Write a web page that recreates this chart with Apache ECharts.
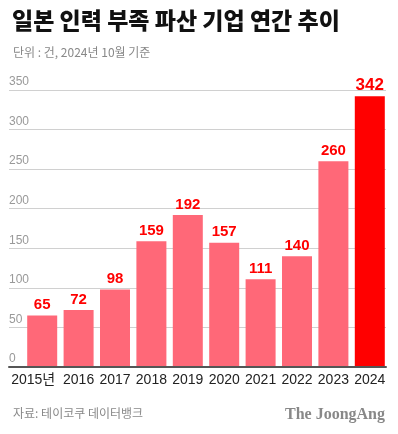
<!DOCTYPE html>
<html>
<head>
<meta charset="utf-8">
<script src="https://cdn.jsdelivr.net/npm/echarts@6/dist/echarts.min.js"></script>
<style>
html,body{margin:0;padding:0;background:#fff;}
#c{width:398px;height:434px;}
</style>
</head>
<body>
<div id="c"></div>
<script>
const categories = ['2015년','2016','2017','2018','2019','2020','2021','2022','2023','2024'];
const values = [65, 72, 98, 159, 192, 157, 111, 140, 260, 342];
const yTicks = [0, 50, 100, 150, 200, 250, 300, 350];

const FONT = '"Liberation Sans", "Noto Sans CJK KR", sans-serif';
const chart = echarts.init(document.getElementById('c'), null, {renderer: 'canvas'});

const barData = values.map((v, i) => {
  const last = i === values.length - 1;
  return {
    value: v,
    itemStyle: {color: last ? '#ff0000' : '#ff6878'},
    label: last ? {fontSize: 17} : undefined
  };
});

const catData = categories.map((c, i) => i === 0
  ? {value: c, textStyle: {padding: [0, 18, 0, 0]}}
  : c);

chart.setOption({
  animation: false,
  backgroundColor: '#fff',
  title: [
    {text: '일본 인력 부족 파산 기업 연간 추이', left: 7, top: 4,
     textStyle: {fontFamily: '"Noto Sans CJK KR", sans-serif', fontSize: 23, fontWeight: 900, color: '#111'}},
    {text: '단위 : 건, 2024년 10월 기준', left: 8, top: 41,
     textStyle: {fontFamily: '"Noto Sans CJK KR", sans-serif', fontSize: 12, fontWeight: 'normal', color: '#888'}},
    {text: '자료: 테이코쿠 데이터뱅크', left: 8, top: 402,
     textStyle: {fontFamily: '"Noto Sans CJK KR", sans-serif', fontSize: 12, fontWeight: 'normal', color: '#888'}},
    {text: 'The JoongAng', right: 8, top: 402,
     textStyle: {fontFamily: '"Liberation Serif", "DejaVu Serif", serif', fontSize: 16, fontWeight: 'bold', color: '#888'}}
  ],
  grid: [
    {left: 9, right: 12, top: 90, bottom: 67},
    {left: 24, right: 10, top: 90, bottom: 67}
  ],
  xAxis: [
    {type: 'category', gridIndex: 0, data: [''], z: 10,
     axisLine: {show: true, lineStyle: {color: '#555', width: 2}},
     axisTick: {show: false}, axisLabel: {show: false}, splitLine: {show: false}},
    {type: 'category', gridIndex: 1, data: catData,
     axisLine: {show: false}, axisTick: {show: false},
     axisLabel: {fontFamily: FONT, fontSize: 14, color: '#222', margin: 6, interval: 0}}
  ],
  yAxis: [
    {type: 'value', gridIndex: 0, min: 0, max: 350, interval: 50,
     axisLine: {show: false}, axisTick: {show: false},
     axisLabel: {inside: true, margin: 0, align: 'left', verticalAlign: 'bottom',
                 padding: [0, 0, 2, 0], fontFamily: FONT, fontSize: 12, color: '#999',
                 formatter: v => yTicks.includes(v) ? String(v) : ''},
     splitLine: {show: true, lineStyle: {color: '#d0d0d0', width: 1}}},
    {type: 'value', gridIndex: 1, min: 0, max: 350, interval: 50, show: false,
     splitLine: {show: false}}
  ],
  series: [
    {type: 'bar', xAxisIndex: 1, yAxisIndex: 1, data: barData, barWidth: 30,
     label: {show: true, position: 'top', distance: 3, fontFamily: FONT, fontSize: 15,
             fontWeight: 'bold', color: '#ff0000'}}
  ]
});
</script>
</body>
</html>
